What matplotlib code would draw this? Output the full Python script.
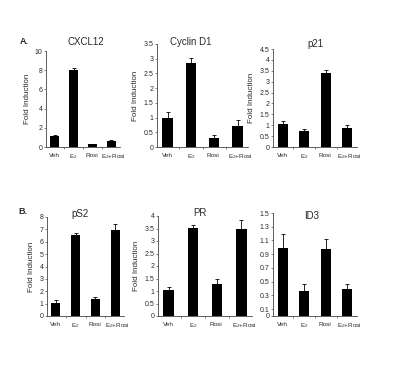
import matplotlib
matplotlib.use("Agg")
import matplotlib.pyplot as plt
import matplotlib.transforms as mtransforms

plt.rcParams["font.family"] = ["Liberation Sans", "DejaVu Sans"]
plt.rcParams["mathtext.fontset"] = "custom"
plt.rcParams["mathtext.rm"] = "Liberation Sans"

categories = ["Veh", "E$_2$", "Rosi", "E$_2$+Rosi"]

titles = ["CXCL12", "Cyclin D1", "p21", "pS2", "PR", "ID3"]

cxcl12 = [1.1, 8.0, 0.3, 0.65]
cxcl12_err = [0.1, 0.2, 0.05, 0.1]
cyclind1 = [1.0, 2.84, 0.3, 0.73]
cyclind1_err = [0.18, 0.2, 0.1, 0.2]
p21 = [1.05, 0.74, 3.42, 0.89]
p21_err = [0.15, 0.09, 0.1, 0.1]
ps2 = [1.07, 6.52, 1.4, 6.98]
ps2_err = [0.19, 0.19, 0.13, 0.48]
pr = [1.04, 3.51, 1.28, 3.47]
pr_err = [0.11, 0.14, 0.19, 0.37]
id3 = [0.99, 0.37, 0.97, 0.40]
id3_err = [0.21, 0.09, 0.15, 0.06]

yticks_list = [
    [0, 2, 4, 6, 8, 10],
    [0, 0.5, 1, 1.5, 2, 2.5, 3, 3.5],
    [0, 0.5, 1, 1.5, 2, 2.5, 3, 3.5, 4, 4.5],
    [0, 1, 2, 3, 4, 5, 6, 7, 8],
    [0, 0.5, 1, 1.5, 2, 2.5, 3, 3.5, 4],
    [0, 0.1, 0.3, 0.5, 0.7, 0.9, 1.1, 1.3, 1.5],
]

values = [cxcl12, cyclind1, p21, ps2, pr, id3]
errors = [cxcl12_err, cyclind1_err, p21_err, ps2_err, pr_err, id3_err]
has_ylabel = [True, True, True, True, True, False]

W, H = 400, 367
boxes_px = [
    (46, 120, 51, 147),
    (157, 248, 44, 147),
    (273, 357, 49, 147),
    (47, 124, 217, 316),
    (158, 252, 216, 316),
    (273, 357, 213, 316),
]
title_px = [(86, 42), (191, 42), (315, 44), (80, 214), (200, 213), (312, 216)]
label_shift = [0.0, 0.0, -0.05, 0.12]

fig = plt.figure(figsize=(4, 3.67), dpi=100)
fig.patch.set_facecolor("white")
tc = "#2a2a2a"

def fmt(v):
    return "%g" % v

for i in range(6):
    l, r, t, b = boxes_px[i]
    ax = fig.add_axes([l / W, 1 - b / H, (r - l) / W, (b - t) / H])
    x = list(range(len(categories)))
    ax.bar(x, values[i], width=0.45, color="black",
           yerr=[[0] * 4, errors[i]],
           error_kw=dict(ecolor="black", elinewidth=0.6, capsize=1.2, capthick=0.6))
    ax.set_xlim(-0.45, 3.45)
    yt = yticks_list[i]
    ax.set_ylim(0, yt[-1])
    ax.set_yticks(yt)
    ax.set_yticklabels([fmt(v) for v in yt], fontsize=5, color=tc)
    ax.set_xticks([0.5, 1.5, 2.5])
    ax.set_xticklabels([])
    ax.tick_params(axis="x", length=1.5, width=0.5, color="#555555")
    ax.tick_params(axis="y", length=1.5, width=0.5, pad=1, color="#555555")
    trans = mtransforms.blended_transform_factory(ax.transData, ax.transAxes)
    off = mtransforms.offset_copy(trans, fig=fig, x=0, y=-4, units="points")
    for j, c in enumerate(categories):
        ax.text(x[j] + label_shift[j], 0, c, transform=off, fontsize=4.6,
                color=tc, ha="center", va="top")
    for s in ["top", "right"]:
        ax.spines[s].set_visible(False)
    for s in ["left", "bottom"]:
        ax.spines[s].set_linewidth(0.6)
        ax.spines[s].set_color("#444444")
    tx, ty = title_px[i]
    fig.text(tx / W, 1 - ty / H, titles[i], fontsize=7, color=tc, ha="center", va="center")
    if has_ylabel[i]:
        ax.set_ylabel("Fold Induction", fontsize=5.8, color=tc, labelpad=3)

fig.text(24 / W, 1 - 42 / H, "A.", fontsize=6.5, fontweight="bold", color=tc, ha="center", va="center")
fig.text(23 / W, 1 - 212 / H, "B.", fontsize=6.5, fontweight="bold", color=tc, ha="center", va="center")

fig.savefig("out.png", dpi=100, facecolor="white")
